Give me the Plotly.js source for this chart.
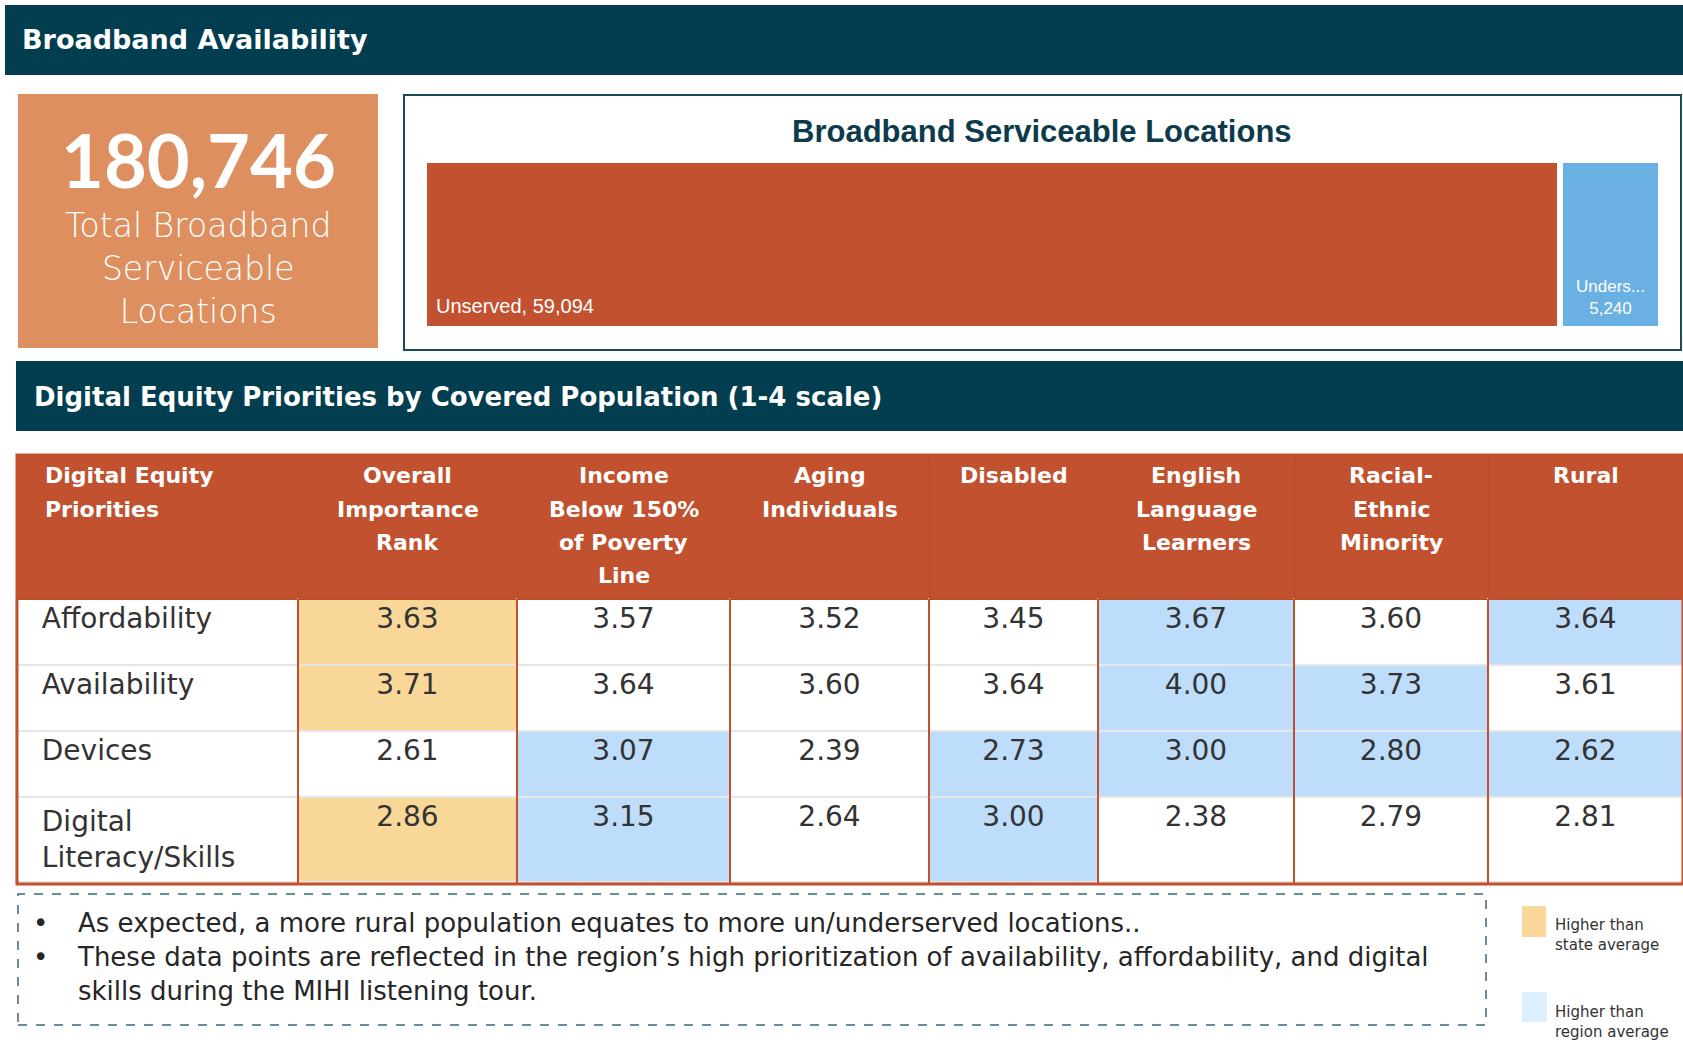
<!DOCTYPE html>
<html>
<head>
<meta charset="utf-8">
<script src="https://cdn.plot.ly/plotly-3.0.1.min.js"></script>
<style>
  html, body { margin: 0; padding: 0; background: #ffffff; }
  #chart { width: 1683px; height: 1048px; }
</style>
</head>
<body>
<div id="chart"></div>
<script>
// ---------------- DATA ----------------
const totalLocations = 180746;
const totalCaption = ['Total Broadband', 'Serviceable', 'Locations'];
const bslLabels = ['Unserved', 'Underserved'];
const bslValues = [59094, 5240];

const priorities = ['Affordability', 'Availability', 'Devices', 'Digital Literacy/Skills'];
const columnHeaders = ['Digital Equity Priorities', 'Overall Importance Rank', 'Income Below 150% of Poverty Line',
  'Aging Individuals', 'Disabled', 'English Language Learners', 'Racial- Ethnic Minority', 'Rural'];
const overallRank = [3.63, 3.71, 2.61, 2.86];
const incomeBelow150 = [3.57, 3.64, 3.07, 3.15];
const agingIndividuals = [3.52, 3.60, 2.39, 2.64];
const disabled = [3.45, 3.64, 2.73, 3.00];
const englishLearners = [3.67, 4.00, 3.00, 2.38];
const racialEthnicMinority = [3.60, 3.73, 2.80, 2.79];
const rural = [3.64, 3.61, 2.62, 2.81];
const higherThanState = [true, true, false, true];

const notes = [
  'As expected, a more rural population equates to more un/underserved locations..',
  'These data points are reflected in the region\u2019s high prioritization of availability, affordability, and digital<br>skills during the MIHI listening tour.'
];
const legendLabels = ['Higher than<br>state average', 'Higher than<br>region average'];

// ---------------- LAYOUT HELPERS ----------------
const W = 1683, H = 1048;
const px = x => x / W;
const py = y => 1 - y / H;
const NAVY = '#033E50';
const RED = '#C1512F';
const BLUE = '#6AB0E3';
const TAN = '#F8D799';
const LIGHTBLUE = '#BDDDFA';
const FONT = '"DejaVu Sans", sans-serif';
const LATO = 'Lato, "Open Sans", sans-serif';
const ARIAL = '"Liberation Sans", Arial, sans-serif';

// ---------------- BAR (serviceable locations) ----------------
const bslTotal = bslValues.reduce((a, b) => a + b, 0);
const bslColors = [RED, BLUE];
const traces = bslLabels.map((lab, i) => ({
  type: 'bar', orientation: 'h', name: lab,
  y: ['BSL'], x: [bslValues[i]],
  marker: { color: bslColors[i], line: { color: '#ffffff', width: 6 } },
  xaxis: 'x', yaxis: 'y', hoverinfo: 'x+name', showlegend: false
}));

// ---------------- TABLE ----------------
const series = [overallRank, incomeBelow150, agingIndividuals, disabled, englishLearners, racialEthnicMinority, rural];
const headerLines = {
  'Digital Equity Priorities': ['Digital Equity', 'Priorities'],
  'Overall Importance Rank': ['Overall', 'Importance', 'Rank'],
  'Income Below 150% of Poverty Line': ['Income', 'Below 150%', 'of Poverty', 'Line'],
  'Aging Individuals': ['Aging', 'Individuals'],
  'English Language Learners': ['English', 'Language', 'Learners'],
  'Racial- Ethnic Minority': ['Racial-', 'Ethnic', 'Minority']
};
const pad = '\u00a0\u00a0';
const labelLines = p => (p === 'Digital Literacy/Skills' ? ['Digital', 'Literacy/Skills'] : [p]);
const cellVals = [priorities.map(p => labelLines(p).map(l => pad + l).join('<br>'))]
  .concat(series.map(s => s.map(v => v.toFixed(2))));
const fillCols = [priorities.map(() => '#ffffff'),
  higherThanState.map(h => h ? TAN : '#ffffff')]
  .concat(series.slice(1).map(s => s.map((v, r) => v > overallRank[r] ? LIGHTBLUE : '#ffffff')));
const colWidths = [282, 219, 213, 199, 169, 196, 194, 195];
const tableTop = 455, tableBottom = 884, tableLeft = 16, headerH = 144;

traces.push({
  type: 'table',
  domain: { x: [px(tableLeft), 1], y: [py(1040), py(tableTop)] },
  columnwidth: colWidths,
  header: {
    values: columnHeaders.map(() => ''),
    fill: { color: RED },
    line: { color: '#B94B2A', width: 1 },
    font: { family: FONT, size: 22, color: '#ffffff' },
    height: headerH
  },
  cells: {
    values: cellVals,
    align: ['left', 'center', 'center', 'center', 'center', 'center', 'center', 'center'],
    fill: { color: fillCols },
    line: { color: '#E6E6E6', width: 2 },
    font: { family: FONT, size: 28, color: '#333333' },
    height: 66
  }
});

// ---------------- SHAPES ----------------
const shapes = [
  { type: 'rect', xref: 'paper', yref: 'paper', x0: px(5), x1: px(1683), y0: py(75), y1: py(5), fillcolor: NAVY, line: { width: 0 }, layer: 'below' },
  { type: 'rect', xref: 'paper', yref: 'paper', x0: px(18), x1: px(378), y0: py(348), y1: py(94), fillcolor: '#DE8F5F', line: { width: 0 }, layer: 'below' },
  { type: 'rect', xref: 'paper', yref: 'paper', x0: px(404), x1: px(1681), y0: py(350), y1: py(95), fillcolor: 'rgba(0,0,0,0)', line: { color: '#1B4A5A', width: 2 }, layer: 'below' },
  { type: 'rect', xref: 'paper', yref: 'paper', x0: px(16), x1: px(1683), y0: py(431), y1: py(361), fillcolor: NAVY, line: { width: 0 }, layer: 'below' },
  { type: 'rect', xref: 'paper', yref: 'paper', x0: px(18), x1: px(1486), y0: py(1025), y1: py(894), fillcolor: 'rgba(0,0,0,0)', line: { color: '#3B6878', width: 1.5, dash: 'dash' } },
  { type: 'rect', xref: 'paper', yref: 'paper', x0: px(1522), x1: px(1546), y0: py(937), y1: py(906), fillcolor: TAN, line: { width: 0 } },
  { type: 'rect', xref: 'paper', yref: 'paper', x0: px(1522), x1: px(1547), y0: py(1022), y1: py(992), fillcolor: '#DDEEFD', line: { width: 0 } }
];
const wSum = colWidths.reduce((a, b) => a + b, 0);
const colEdges = [tableLeft];
colWidths.forEach(w => colEdges.push(colEdges[colEdges.length - 1] + w * (W - tableLeft) / wSum));
colEdges.slice(1, -1).forEach(e => {
  shapes.push({ type: 'line', xref: 'paper', yref: 'paper', x0: px(e), x1: px(e), y0: py(tableBottom), y1: py(tableTop + headerH), line: { color: RED, width: 2 } });
});
shapes.push({ type: 'rect', xref: 'paper', yref: 'paper', x0: px(tableLeft + 1), x1: px(1683), y0: py(tableBottom), y1: py(tableTop), fillcolor: 'rgba(0,0,0,0)', line: { color: RED, width: 3 } });

// ---------------- ANNOTATIONS ----------------
const annotations = [
  { xref: 'paper', yref: 'paper', x: px(20), y: py(40), xanchor: 'left', yanchor: 'middle', showarrow: false,
    text: '<b>Broadband Availability</b>', font: { family: FONT, size: 27, color: '#ffffff' } },
  { xref: 'paper', yref: 'paper', x: px(198), y: py(159), xanchor: 'center', yanchor: 'middle', showarrow: false,
    text: '<b>' + totalLocations.toLocaleString('en-US') + '</b>', font: { family: LATO, size: 74, color: '#ffffff' } },
  { xref: 'paper', yref: 'paper', x: px(198), y: py(268), xanchor: 'center', yanchor: 'middle', showarrow: false,
    text: totalCaption.join('<br>'), font: { family: FONT, size: 33, weight: 200, color: '#ffffff' } },
  { xref: 'paper', yref: 'paper', x: px(1042), y: py(131), xanchor: 'center', yanchor: 'middle', showarrow: false,
    text: '<b>Broadband Serviceable Locations</b>', font: { family: ARIAL, size: 31, color: '#0D3B4B' } },
  { xref: 'x', yref: 'y', x: 0, y: -0.5, xanchor: 'left', yanchor: 'bottom', xshift: 10, yshift: 10, showarrow: false,
    text: bslLabels[0] + ', ' + bslValues[0].toLocaleString('en-US'), font: { family: ARIAL, size: 20, color: '#ffffff' } },
  { xref: 'x', yref: 'y', x: bslValues[0] + bslValues[1] / 2, y: -0.5, xanchor: 'center', yanchor: 'bottom', yshift: 9, showarrow: false,
    text: bslLabels[1].slice(0, 6) + '...<br>' + bslValues[1].toLocaleString('en-US'), font: { family: ARIAL, size: 17, color: '#ffffff' } },
  { xref: 'paper', yref: 'paper', x: px(32), y: py(397), xanchor: 'left', yanchor: 'middle', showarrow: false,
    text: '<b>Digital Equity Priorities by Covered Population (1-4 scale)</b>', font: { family: FONT, size: 26, color: '#ffffff' } },
  { xref: 'paper', yref: 'paper', x: px(31), y: py(906), xanchor: 'left', yanchor: 'top', showarrow: false, align: 'left',
    text: '\u2022<br>\u2022', font: { family: FONT, size: 26, color: '#262626' } },
  { xref: 'paper', yref: 'paper', x: px(75), y: py(906), xanchor: 'left', yanchor: 'top', showarrow: false, align: 'left',
    text: notes.join('<br>'), font: { family: FONT, size: 26, color: '#262626' } },
  { xref: 'paper', yref: 'paper', x: px(1553), y: py(935), xanchor: 'left', yanchor: 'middle', showarrow: false, align: 'left',
    text: legendLabels[0], font: { family: FONT, size: 15, color: '#333333' } },
  { xref: 'paper', yref: 'paper', x: px(1553), y: py(1022), xanchor: 'left', yanchor: 'middle', showarrow: false, align: 'left',
    text: legendLabels[1], font: { family: FONT, size: 15, color: '#333333' } }
];
// table header text, one line at a time, centred on each column
columnHeaders.forEach((h, c) => {
  const lines = headerLines[h] || [h];
  lines.forEach((l, k) => {
    annotations.push({
      xref: 'paper', yref: 'paper',
      x: c === 0 ? px(colEdges[0] + 27) : px((colEdges[c] + colEdges[c + 1]) / 2),
      y: py(tableTop + 21 + 33 * k),
      xanchor: c === 0 ? 'left' : 'center', yanchor: 'middle', showarrow: false,
      text: '<b>' + l + '</b>', font: { family: FONT, size: 22, color: '#ffffff' }
    });
  });
});

const layout = {
  width: W, height: H,
  margin: { l: 0, r: 0, t: 0, b: 0, pad: 0 },
  paper_bgcolor: '#ffffff', plot_bgcolor: 'rgba(0,0,0,0)',
  barmode: 'stack', bargap: 0,
  xaxis: { domain: [px(424), px(1661)], range: [0, bslTotal], visible: false, fixedrange: true },
  yaxis: { domain: [py(329), py(160)], range: [-0.5, 0.5], visible: false, fixedrange: true },
  showlegend: false,
  shapes: shapes,
  annotations: annotations,
  font: { family: FONT }
};

Plotly.newPlot('chart', traces, layout, { displayModeBar: false, staticPlot: true });
</script>
</body>
</html>
